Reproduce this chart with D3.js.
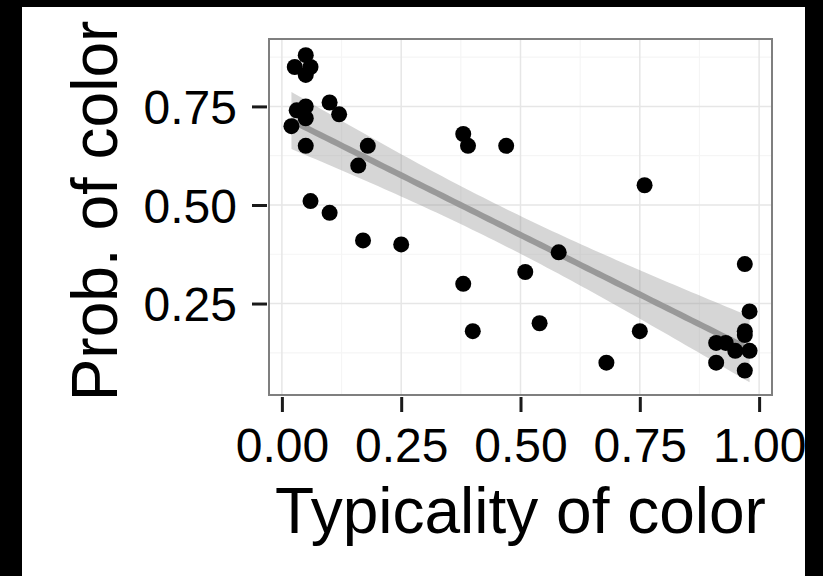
<!DOCTYPE html>
<html>
<head>
<meta charset="utf-8">
<script src="https://cdn.jsdelivr.net/npm/d3@7"></script>
<style>
  html, body { margin: 0; padding: 0; background: #000; }
  svg { display: block; }
  text { font-family: "Liberation Sans", Arial, Helvetica, sans-serif; fill: #000; }
</style>
</head>
<body>
<div class="container"></div>
<script>
// values
const typicality = [0.05, 0.027, 0.06, 0.05, 0.031, 0.05, 0.05, 0.02, 0.10, 0.12,
                    0.05, 0.18, 0.16, 0.38, 0.39, 0.47, 0.06, 0.10, 0.17, 0.25,
                    0.38, 0.40, 0.76, 0.58, 0.51, 0.54, 0.75, 0.68, 0.97, 0.98,
                    0.97, 0.97, 0.91, 0.93, 0.95, 0.98, 0.91, 0.97];
const probColor = [0.88, 0.85, 0.85, 0.83, 0.74, 0.75, 0.72, 0.70, 0.76, 0.73,
                   0.65, 0.65, 0.60, 0.68, 0.65, 0.65, 0.51, 0.48, 0.41, 0.40,
                   0.30, 0.18, 0.55, 0.38, 0.33, 0.20, 0.18, 0.10, 0.35, 0.23,
                   0.18, 0.17, 0.15, 0.15, 0.13, 0.13, 0.10, 0.08];
const xTicks = [0, 0.25, 0.5, 0.75, 1];
const yTicks = [0.25, 0.5, 0.75];
const xTitle = "Typicality of color";
const yTitle = "Prob. of color";

const width = 823, height = 576;
const panel = { left: 269, top: 39, right: 772, bottom: 395 };

let svg = d3.select(".container")
            .append("svg")
            .attr("width", width)
            .attr("height", height);

svg.append("rect")
   .attr("width", width)
   .attr("height", height)
   .attr("fill", "#000");

svg.append("rect")
   .attr("x", 22)
   .attr("y", 7)
   .attr("width", 805 - 22)
   .attr("height", height - 7)
   .attr("fill", "#fff");

let xScale = d3.scaleLinear()
               .domain([-0.027, 1.027])
               .range([panel.left, panel.right]);

let yScale = d3.scaleLinear()
               .domain([0.018, 0.921])
               .range([panel.bottom, panel.top]);

// grid: minor then major
let xMinor = d3.range(xTicks.length - 1).map(i => (xTicks[i] + xTicks[i + 1]) / 2);
let yMinor = [0.125, 0.375, 0.625, 0.875];

let grid = svg.append("g").attr("class", "grid");

grid.selectAll(".xminor")
    .data(xMinor)
    .enter()
    .append("line")
    .attr("x1", d => xScale(d))
    .attr("x2", d => xScale(d))
    .attr("y1", panel.top)
    .attr("y2", panel.bottom)
    .attr("stroke", "#f5f5f5")
    .attr("stroke-width", 1.2);

grid.selectAll(".yminor")
    .data(yMinor)
    .enter()
    .append("line")
    .attr("x1", panel.left)
    .attr("x2", panel.right)
    .attr("y1", d => yScale(d))
    .attr("y2", d => yScale(d))
    .attr("stroke", "#f5f5f5")
    .attr("stroke-width", 1.2);

grid.selectAll(".xmajor")
    .data(xTicks)
    .enter()
    .append("line")
    .attr("x1", d => xScale(d))
    .attr("x2", d => xScale(d))
    .attr("y1", panel.top)
    .attr("y2", panel.bottom)
    .attr("stroke", "#e6e6e6")
    .attr("stroke-width", 1.5);

grid.selectAll(".ymajor")
    .data(yTicks)
    .enter()
    .append("line")
    .attr("x1", panel.left)
    .attr("x2", panel.right)
    .attr("y1", d => yScale(d))
    .attr("y2", d => yScale(d))
    .attr("stroke", "#e6e6e6")
    .attr("stroke-width", 1.5);

// linear fit with 95% band, like geom_smooth(method = "lm")
let n = typicality.length;
let xMean = d3.mean(typicality);
let yMean = d3.mean(probColor);
let sxx = d3.sum(typicality, x => (x - xMean) ** 2);
let sxy = d3.sum(typicality, (x, i) => (x - xMean) * (probColor[i] - yMean));
let slope = sxy / sxx;
let intercept = yMean - slope * xMean;
let rss = d3.sum(typicality, (x, i) => (probColor[i] - (intercept + slope * x)) ** 2);
let sigma = Math.sqrt(rss / (n - 2));
let tCrit = 2.028;

let xs = d3.range(80).map(i => d3.min(typicality) +
                               i * (d3.max(typicality) - d3.min(typicality)) / 79);
let fit = xs.map(x => {
  let yhat = intercept + slope * x;
  let se = sigma * Math.sqrt(1 / n + (x - xMean) ** 2 / sxx);
  return { x: x, y: yhat, lo: yhat - tCrit * se, hi: yhat + tCrit * se };
});

svg.append("path")
   .datum(fit)
   .attr("fill", "#999999")
   .attr("fill-opacity", 0.4)
   .attr("d", d3.area()
                .x(d => xScale(d.x))
                .y0(d => yScale(d.lo))
                .y1(d => yScale(d.hi)));

svg.append("path")
   .datum(fit)
   .attr("fill", "none")
   .attr("stroke", "#999999")
   .attr("stroke-width", 6)
   .attr("d", d3.line()
                .x(d => xScale(d.x))
                .y(d => yScale(d.y)));

svg.append("g")
   .selectAll("circle")
   .data(typicality)
   .enter()
   .append("circle")
   .attr("r", 8)
   .attr("cx", d => xScale(d))
   .attr("cy", (d, i) => yScale(probColor[i]))
   .attr("fill", "#000");

svg.append("rect")
   .attr("x", panel.left)
   .attr("y", panel.top)
   .attr("width", panel.right - panel.left)
   .attr("height", panel.bottom - panel.top)
   .attr("fill", "none")
   .attr("stroke", "#7f7f7f")
   .attr("stroke-width", 2);

// axes
let xAxis = d3.axisBottom(xScale)
              .tickValues(xTicks)
              .tickFormat(d3.format(".2f"))
              .tickSize(15)
              .tickPadding(18);

let yAxis = d3.axisLeft(yScale)
              .tickValues(yTicks)
              .tickFormat(d3.format(".2f"))
              .tickSize(15)
              .tickPadding(15);

let gx = svg.append("g")
            .attr("transform", `translate(0,${panel.bottom + 2})`)
            .call(xAxis);

let gy = svg.append("g")
            .attr("transform", `translate(${panel.left - 2},0)`)
            .call(yAxis);

[gx, gy].forEach(g => {
  g.select(".domain").remove();
  g.selectAll(".tick line")
   .attr("stroke", "#1a1a1a")
   .attr("stroke-width", 3);
  g.selectAll(".tick text")
   .attr("fill", "#000")
   .style("font-size", "48px")
   .style("font-family", "'Liberation Sans', Arial, sans-serif");
});

gx.selectAll(".tick text").attr("dy", null).attr("y", 65);
gy.selectAll(".tick text").attr("dy", "0.36em");

svg.append("text")
   .attr("x", (panel.left + panel.right) / 2)
   .attr("y", 533)
   .attr("text-anchor", "middle")
   .style("font-size", "64px")
   .text(xTitle);

svg.append("text")
   .attr("transform", "translate(117,211) rotate(-90)")
   .attr("text-anchor", "middle")
   .style("font-size", "64px")
   .text(yTitle);

// black frame on the right clips the last label
svg.append("rect")
   .attr("x", 805)
   .attr("y", 0)
   .attr("width", width - 805)
   .attr("height", height)
   .attr("fill", "#000");
</script>
</body>
</html>
